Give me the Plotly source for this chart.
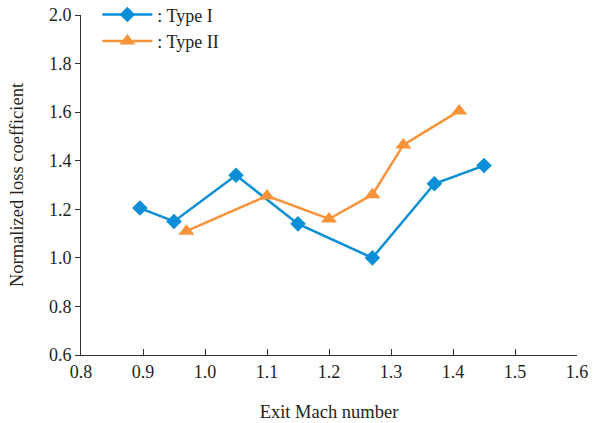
import plotly.graph_objects as go

# Data
type1_x = [0.895, 0.95, 1.05, 1.15, 1.27, 1.37, 1.45]
type1_y = [1.205, 1.15, 1.34, 1.14, 1.00, 1.305, 1.38]
type2_x = [0.97, 1.10, 1.20, 1.27, 1.32, 1.41]
type2_y = [1.11, 1.255, 1.16, 1.26, 1.465, 1.605]

x_ticks = [0.8, 0.9, 1.0, 1.1, 1.2, 1.3, 1.4, 1.5, 1.6]
y_ticks = [0.6, 0.8, 1.0, 1.2, 1.4, 1.6, 1.8, 2.0]

BLUE = "#0a8fd6"
ORANGE = "#f7933b"
FONT = "Liberation Serif"
TXT = "#231f20"

fig = go.Figure()
fig.add_trace(go.Scatter(
    x=type1_x, y=type1_y, mode="lines+markers", name=": Type I",
    line=dict(color=BLUE, width=2.5),
    marker=dict(symbol="diamond", size=12, color=BLUE),
))
fig.add_trace(go.Scatter(
    x=type2_x, y=type2_y, mode="lines+markers", name=": Type II",
    line=dict(color=ORANGE, width=2.5),
    marker=dict(symbol="triangle-up", size=14, color=ORANGE),
))

fig.update_layout(
    width=599, height=423,
    margin=dict(l=81, r=22, t=15, b=68, autoexpand=False),
    paper_bgcolor="white", plot_bgcolor="white",
    font=dict(family=FONT, size=18, color=TXT),
    showlegend=True,
    legend=dict(
        x=0.033, y=1.055, xanchor="left", yanchor="top",
        itemwidth=50,
        bgcolor="rgba(0,0,0,0)", font=dict(family=FONT, size=18, color=TXT),
    ),
    xaxis=dict(
        range=[0.8, 1.6], tickvals=x_ticks, ticktext=[f"{v:.1f}" for v in x_ticks],
        showgrid=False, zeroline=False, showline=True, linecolor="#333333", linewidth=1,
        ticks="inside", ticklen=6, tickcolor="#333333",
        title=dict(text="Exit Mach number", font=dict(family=FONT, size=18.5, color=TXT), standoff=24),
        tickfont=dict(family=FONT, size=18, color=TXT),
    ),
    yaxis=dict(
        range=[0.6, 2.0], tickvals=y_ticks, ticktext=[f"{v:.1f}" for v in y_ticks],
        showgrid=False, zeroline=False, showline=True, linecolor="#333333", linewidth=1,
        ticks="outside", ticklen=5, tickcolor="#333333",
        title=dict(text="Normalized loss coefficient", font=dict(family=FONT, size=18.5, color=TXT), standoff=20),
        tickfont=dict(family=FONT, size=18, color=TXT),
    ),
)

fig.write_html("out.html")
